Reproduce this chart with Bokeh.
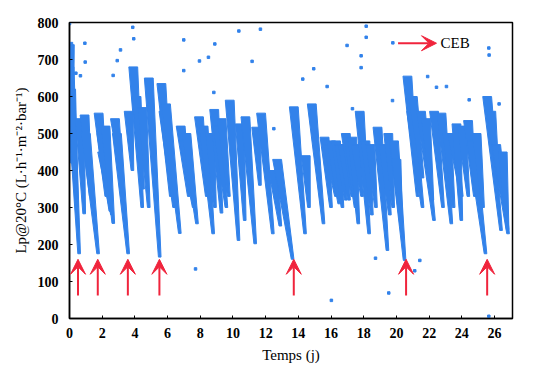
from bokeh.plotting import figure
from bokeh.models import Arrow, VeeHead, Label, Range1d, ColumnDataSource
from bokeh.embed import file_html
from bokeh.resources import INLINE

# Filtration cycles: start (day, Lp) -> end (day, Lp)
cyc_t0 = [0.02, 0.00, 0.10, 0.63, 0.92, 1.00, 1.78, 1.95, 2.00, 2.20, 2.78, 2.90, 3.62, 3.90,
          4.10, 4.45, 4.85, 5.62, 5.75, 5.90, 6.80, 7.00, 7.15, 7.92, 8.20, 8.60, 8.85, 9.05,
          9.30, 9.80, 10.42, 10.76, 11.42, 11.72, 12.45, 12.70, 13.72, 14.45, 14.82, 15.60,
          15.80, 16.00, 16.30, 16.50, 16.70, 16.90, 17.10, 17.30, 17.50, 17.75, 18.10, 18.40,
          18.84, 19.20, 19.50, 19.85, 20.00, 20.67, 20.90, 21.00, 21.50, 21.80, 22.30, 22.75,
          23.10, 23.40, 23.67, 24.00, 24.38, 24.60, 24.90, 25.55, 25.80, 26.10, 26.50]
cyc_v0 = [740, 680, 620, 540, 550, 500, 555, 500, 450, 520, 540, 500, 560, 680,
          600, 570, 650, 635, 560, 580, 520, 480, 500, 545, 520, 500, 565, 520,
          540, 590, 526, 545, 517, 555, 400, 430, 572, 440, 580, 490,
          470, 480, 480, 470, 470, 500, 480, 490, 470, 560, 480, 470,
          517, 470, 500, 480, 430, 655, 560, 600, 560, 540, 560, 555,
          500, 500, 526, 520, 535, 480, 500, 600, 560, 470, 450]
cyc_t1 = [0.15, 0.59, 0.45, 0.90, 1.30, 1.75, 2.25, 2.50, 2.60, 2.68, 3.20, 3.59, 3.85, 4.45,
          4.50, 4.85, 5.52, 6.20, 6.40, 6.75, 7.30, 7.60, 7.80, 8.40, 8.79, 8.90, 9.30, 9.60,
          9.75, 10.34, 10.72, 11.36, 11.65, 12.44, 12.90, 13.65, 14.41, 14.65, 15.54, 16.00,
          16.30, 16.50, 16.70, 16.90, 17.10, 17.30, 17.50, 17.67, 17.90, 18.33, 18.50, 18.75,
          19.45, 19.60, 19.80, 20.50, 20.30, 21.30, 21.60, 21.60, 22.30, 22.20, 22.85, 23.36,
          23.50, 24.00, 23.97, 24.40, 24.80, 25.45, 25.30, 26.40, 26.20, 26.83, 26.80]
cyc_v1 = [420, 175, 300, 283, 330, 175, 330, 290, 280, 257, 380, 175, 400, 300,
          350, 300, 166, 330, 300, 230, 330, 300, 256, 330, 229, 300, 285, 300,
          330, 211, 265, 202, 360, 229, 250, 160, 229, 300, 256, 300,
          330, 310, 300, 320, 320, 330, 300, 256, 330, 229, 280, 300,
          184, 280, 300, 157, 250, 330, 300, 380, 265, 320, 300, 256,
          300, 330, 265, 330, 330, 175, 300, 238, 380, 229, 240]

# Isolated points
out_t = [0.00, 0.12, 0.94, 0.96, 0.39, 0.67, 2.67, 2.92, 3.12, 3.87, 3.93, 6.99, 6.99,
         10.36, 11.68, 8.89, 7.95, 8.50, 11.17, 8.83, 14.27, 14.94, 15.76, 16.98, 18.15,
         18.15, 17.84, 17.84, 17.31, 12.50, 19.78, 19.76, 25.65, 25.67, 21.91, 22.45, 23.06,
         24.45, 26.28, 7.71, 16.02, 18.72, 19.53, 21.43, 21.12, 25.65]
out_v = [797, 743, 744, 693, 663, 656, 657, 697, 726, 787, 756, 753, 670,
         777, 782, 742, 696, 706, 695, 611, 647, 675, 627, 738, 790,
         760, 710, 678, 567, 513, 745, 589, 731, 712, 654, 625, 627,
         591, 580, 134, 49, 163, 69, 157, 129, 6]

# CEB events (arrows)
ceb_t = [0.52, 1.73, 3.57, 5.50, 13.72, 20.59, 25.55]
ceb_tail = [62] * len(ceb_t)
ceb_tip = [160] * len(ceb_t)

x_ticks = list(range(0, 27, 2))
y_ticks = list(range(0, 801, 100))

BLUE = "#3282EA"
RED = "#F0243C"
FONT = "Liberation Serif"
TOP_HW = 0.27   # half-width of a band at its start (days), drawing style
BOT_HW = 0.08   # half-width of a band at its end (days), drawing style

band_xs = [[a - TOP_HW, a + TOP_HW, b + BOT_HW, b - BOT_HW] for a, b in zip(cyc_t0, cyc_t1)]
band_ys = [[u, u, w, w] for u, w in zip(cyc_v0, cyc_v1)]

p = figure(width=535, height=368, output_backend="svg", toolbar_location=None,
           x_range=Range1d(0, 27.1), y_range=Range1d(0, 800),
           min_border_left=69, min_border_right=23, min_border_top=22, min_border_bottom=50)

p.patches(xs=band_xs, ys=band_ys, fill_color=BLUE, line_color=BLUE, line_width=1)
p.scatter(out_t, out_v, marker="square", size=2.5, fill_color=BLUE, line_color=BLUE)

src = ColumnDataSource(dict(x=ceb_t, y0=ceb_tail, y1=ceb_tip))
p.add_layout(Arrow(end=VeeHead(size=15, fill_color=RED, line_color=RED),
                   x_start="x", y_start="y0", x_end="x", y_end="y1",
                   line_color=RED, line_width=2, source=src))

p.add_layout(Arrow(end=VeeHead(size=15, fill_color=RED, line_color=RED),
                   x_start=20.1, y_start=744, x_end=22.45, y_end=744,
                   line_color=RED, line_width=2))
p.add_layout(Label(x=22.7, y=744, text="CEB", text_baseline="middle",
                   text_font=FONT, text_font_size="15px", text_color="black"))

p.xgrid.grid_line_color = None
p.ygrid.grid_line_color = None
p.outline_line_color = "black"
p.outline_line_width = 1.5
p.outline_line_alpha = 1

p.xaxis.ticker = x_ticks
p.yaxis.ticker = y_ticks
for ax in (p.xaxis, p.yaxis):
    ax.axis_line_color = "black"
    ax.axis_line_width = 1.5
    ax.major_tick_in = 3
    ax.major_tick_out = 0
    ax.minor_tick_line_color = None
    ax.major_tick_line_color = "black"
    ax.major_label_text_font = FONT
    ax.major_label_text_font_size = "14px"
    ax.major_label_text_font_style = "bold"
    ax.major_label_text_color = "black"
    ax.axis_label_text_font = FONT
    ax.axis_label_text_font_style = "normal"
    ax.axis_label_text_color = "black"

p.xaxis.axis_label = "Temps (j)"
p.xaxis.axis_label_text_font_size = "15px"
p.xaxis.major_label_standoff = 9
p.xaxis.axis_label_standoff = 6
p.yaxis.axis_label = "Lp@20°C (L·h⁻¹·m⁻²·bar⁻¹)"
p.yaxis.axis_label_text_font_size = "15px"
p.yaxis.major_label_standoff = 11
p.yaxis.axis_label_standoff = 6

open("out.html", "w").write(file_html(p, INLINE))
